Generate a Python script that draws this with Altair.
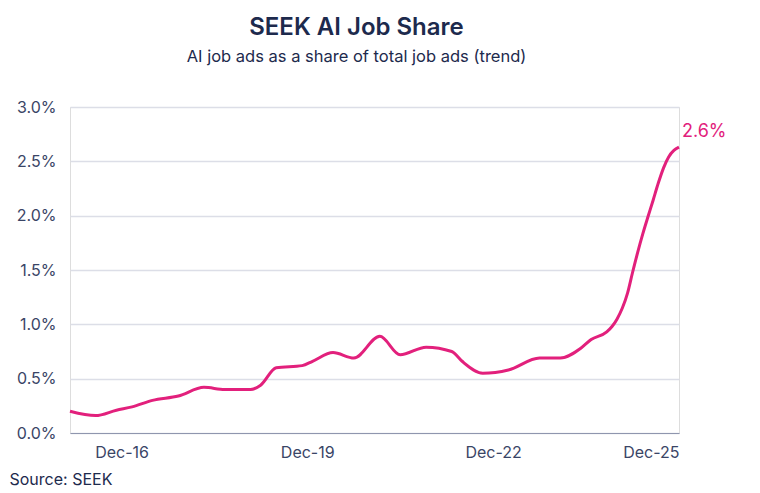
import altair as alt
import pandas as pd

# Data (AI job ads share of total, %)
months = [
    "2016-02-01", "2016-07-01", "2016-11-01", "2017-02-01", "2017-06-01",
    "2017-11-01", "2018-04-01", "2018-08-01", "2019-01-01", "2019-03-01",
    "2019-06-01", "2019-11-01", "2020-01-01", "2020-05-01", "2020-09-01",
    "2021-02-01", "2021-06-01", "2021-11-01", "2022-04-01", "2022-06-01",
    "2022-10-01", "2023-03-01", "2023-09-01", "2024-01-01", "2024-05-01",
    "2024-07-01", "2024-10-01", "2024-11-01", "2024-12-01", "2025-01-01",
    "2025-02-01", "2025-03-01", "2025-04-01", "2025-05-01", "2025-06-01",
    "2025-07-01", "2025-08-01", "2025-09-01", "2025-10-01", "2025-11-01",
    "2025-12-01",
]
share_pct = [
    0.20, 0.16, 0.21, 0.24, 0.30,
    0.34, 0.42, 0.40, 0.40, 0.44,
    0.60, 0.62, 0.66, 0.74, 0.69,
    0.89, 0.72, 0.79, 0.75, 0.66,
    0.55, 0.58, 0.69, 0.69, 0.78,
    0.86, 0.93, 0.98, 1.05, 1.15,
    1.29, 1.47, 1.66, 1.83, 1.99,
    2.14, 2.30, 2.44, 2.54, 2.60,
    2.63,
]
x_tick_years = [2016, 2019, 2022, 2025]
y_ticks = [0.0, 0.005, 0.010, 0.015, 0.020, 0.025, 0.030]

title_text = "SEEK AI Job Share"
subtitle_text = "AI job ads as a share of total job ads (trend)"
source_text = "Source: SEEK"

FONT = "Inter"
PINK = "#e2207c"
NAVY = "#1d2a4d"
LABEL = "#3a4566"

df = pd.DataFrame({"month": months, "share": [v / 100 for v in share_pct]})
last = df.tail(1)

x_enc = alt.X(
    "month:T",
    scale=alt.Scale(domain=[months[0], months[-1]], nice=False),
    axis=alt.Axis(
        values=[alt.DateTime(year=y, month=12, date=1) for y in x_tick_years],
        format="%b-%y",
        labelFont=FONT,
        labelFontSize=16,
        labelColor=LABEL,
        labelPadding=11,
        ticks=False,
        grid=False,
        domainColor="#8f96ae",
        domainWidth=1,
        title=source_text,
        titleFont=FONT,
        titleFontSize=16,
        titleFontWeight="normal",
        titleColor=NAVY,
        titleAnchor="start",
        titleAlign="left",
        titleBaseline="alphabetic",
        titleX=-61,
        titleY=51,
    ),
)
y_enc = alt.Y(
    "share:Q",
    scale=alt.Scale(domain=[0, 0.03], nice=False),
    axis=alt.Axis(
        values=y_ticks,
        format=".1%",
        labelFont=FONT,
        labelFontSize=16,
        labelColor=LABEL,
        labelPadding=14,
        ticks=False,
        domain=False,
        gridColor="#dcdee7",
        gridWidth=1.5,
        title=None,
    ),
)

line = alt.Chart(df).mark_line(
    color=PINK, strokeWidth=3, interpolate="monotone"
).encode(x=x_enc, y=y_enc)

label = alt.Chart(last).mark_text(
    color=PINK, font=FONT, fontSize=18, align="left",
    baseline="alphabetic", dx=3, dy=-10
).encode(x="month:T", y="share:Q", text=alt.Text("share:Q", format=".1%"))

chart = alt.layer(line, label).properties(
    width=609,
    height=326,
    autosize=alt.AutoSizeParams(type="none"),
    padding={"left": 62, "top": 99, "right": 73, "bottom": 60},
    title=alt.TitleParams(
        title_text,
        subtitle=subtitle_text,
        font=FONT,
        fontSize=24,
        fontWeight=600,
        color=NAVY,
        subtitleFont=FONT,
        subtitleFontSize=16.5,
        subtitleColor=NAVY,
        anchor="middle",
        dx=-18,
        offset=34,
        subtitlePadding=9,
    ),
).configure_view(stroke=None).configure(background="white")

chart.save("out.html", embed_options={"renderer": "svg", "actions": False})
